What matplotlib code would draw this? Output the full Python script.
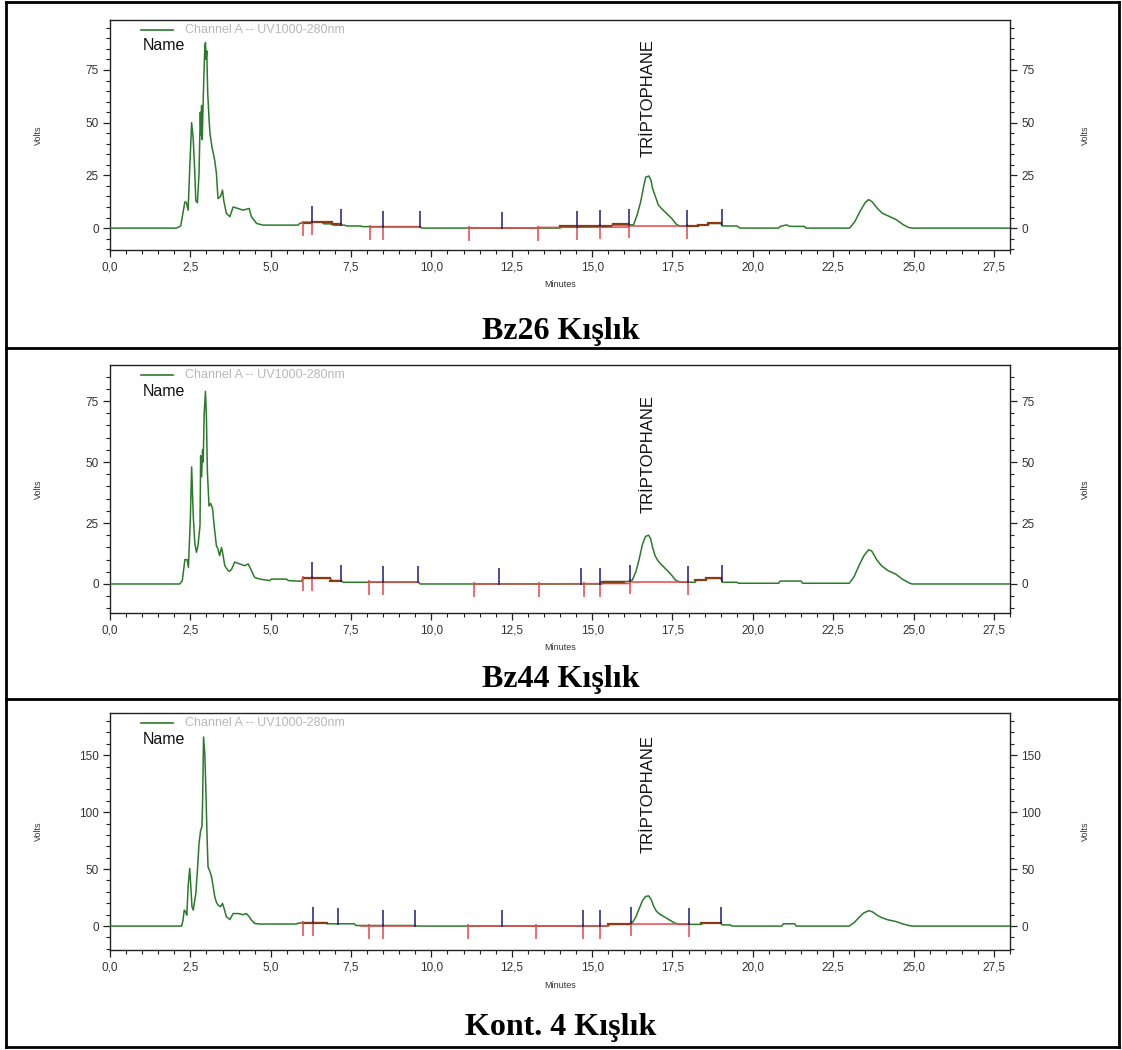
import numpy as np
import matplotlib
matplotlib.use("Agg")
import matplotlib.pyplot as plt
from matplotlib.lines import Line2D
from matplotlib.ticker import MultipleLocator, FuncFormatter

plt.rcParams['font.family'] = ['Liberation Sans', 'DejaVu Sans']

# ---------------- data ----------------
CAPTIONS = ["Bz26 Kışlık", "Bz44 Kışlık", "Kont. 4 Kışlık"]
PEAK_NAME = "TRİPTOPHANE"
LEGEND_TEXT = "Channel A -- UV1000-280nm"

BZ26_T = [0.0, 2.07, 2.20, 2.33, 2.38, 2.43, 2.48, 2.54, 2.59, 2.63, 2.67, 2.72, 2.77,
          2.81, 2.83, 2.85, 2.87, 2.89, 2.92, 2.95, 2.97, 2.99, 3.01, 3.04, 3.08, 3.11,
          3.17, 3.26, 3.31, 3.36, 3.44, 3.50, 3.54, 3.62, 3.73, 3.83, 3.98, 4.14, 4.33,
          4.40, 4.56, 4.76, 5.85, 5.90, 6.05, 6.60, 6.65, 6.90, 6.95, 7.30, 7.35, 7.80,
          7.85, 9.65, 9.70, 14.00, 14.05, 14.55, 14.60, 15.60, 15.65, 16.13, 16.29,
          16.40, 16.51, 16.61, 16.67, 16.77, 16.83, 16.88, 16.99, 17.06, 17.15, 17.31,
          17.47, 17.63, 17.74, 18.30, 18.35, 18.60, 18.65, 19.00, 19.05, 19.50, 19.60,
          20.80, 20.85, 21.05, 21.15, 21.60, 21.65, 23.01, 23.17, 23.33, 23.49, 23.60,
          23.71, 23.87, 24.03, 24.25, 24.46, 24.68, 24.84, 24.95, 28.0]
BZ26_V = [0.0, 0.0, 1.0, 12.5, 12.0, 8.5, 28.0, 50.0, 42.0, 29.0, 13.0, 12.0, 26.0,
          55.0, 44.0, 58.0, 42.0, 55.0, 72.0, 86.0, 88.0, 80.0, 84.0, 64.0, 52.0, 45.0,
          38.6, 32.0, 26.0, 14.0, 15.0, 18.0, 13.0, 7.0, 5.4, 10.0, 9.3, 8.5, 9.3,
          5.4, 2.2, 1.4, 1.4, 2.2, 2.8, 2.8, 2.0, 2.0, 1.4, 1.4, 1.0, 1.0,
          0.7, 0.7, 0.0, 0.0, 0.5, 0.5, 1.0, 1.0, 1.5, 1.5, 1.6,
          6.3, 12.5, 20.3, 24.2, 24.7, 22.7, 18.8, 14.0, 10.9, 9.4, 7.0,
          4.7, 1.6, 1.0, 1.0, 1.5, 1.5, 2.2, 2.2, 1.0, 1.0, 0.0,
          0.0, 0.8, 1.5, 0.8, 0.8, 0.0, 0.0, 3.0, 7.8, 12.0, 13.5,
          12.5, 9.4, 7.0, 5.5, 4.0, 1.6, 0.3, 0.0, 0.0]

BZ44_T = [0.0, 2.17, 2.25, 2.33, 2.40, 2.44, 2.50, 2.54, 2.57, 2.59, 2.64, 2.69, 2.74,
          2.80, 2.82, 2.85, 2.88, 2.90, 2.93, 2.97, 3.00, 3.03, 3.08, 3.13, 3.19, 3.24,
          3.31, 3.36, 3.41, 3.47, 3.52, 3.57, 3.67, 3.72, 3.78, 3.88, 4.04, 4.19, 4.30,
          4.40, 4.50, 4.66, 4.97, 5.02, 5.49, 5.55, 5.95, 6.00, 6.85, 6.90, 7.20, 7.25,
          9.60, 9.65, 15.30, 15.35, 16.10, 16.25, 16.36, 16.46, 16.56, 16.66, 16.76,
          16.82, 16.88, 16.96, 17.05, 17.15, 17.30, 17.45, 17.60, 17.75, 18.20, 18.25,
          18.50, 18.55, 19.00, 19.05, 19.50, 19.55, 20.80, 20.85, 21.50, 21.55, 23.00,
          23.15, 23.30, 23.45, 23.60, 23.70, 23.85, 24.00, 24.20, 24.45, 24.65, 24.85,
          24.95, 28.0]
BZ44_V = [0.0, 0.0, 1.4, 10.0, 10.0, 6.8, 27.0, 48.0, 36.0, 28.0, 16.4, 13.0, 16.0,
          24.0, 52.6, 44.0, 55.0, 50.0, 70.0, 79.0, 68.0, 46.0, 32.0, 33.0, 31.0, 24.0,
          15.7, 14.3, 11.6, 15.0, 11.6, 7.5, 5.5, 5.2, 6.0, 9.0, 8.2, 7.5, 8.2,
          5.5, 2.7, 2.0, 1.4, 2.0, 2.0, 1.4, 1.1, 2.3, 2.3, 1.4, 1.4, 0.7,
          0.7, 0.0, 0.0, 1.0, 1.0, 1.6, 5.0, 10.0, 16.0, 19.5, 20.0,
          18.5, 15.0, 11.5, 9.5, 8.0, 6.0, 4.0, 1.5, 0.7, 0.7, 1.6,
          1.6, 2.3, 2.3, 0.7, 0.7, 0.3, 0.3, 1.2, 1.2, 0.3, 0.3,
          3.0, 7.5, 11.5, 14.0, 13.5, 10.0, 7.5, 5.5, 4.0, 2.0, 0.5,
          0.0, 0.0]

KONT4_T = [0.0, 2.23, 2.27, 2.31, 2.35, 2.39, 2.43, 2.48, 2.51, 2.55, 2.59, 2.67, 2.72,
           2.77, 2.82, 2.86, 2.88, 2.91, 2.95, 2.98, 3.02, 3.05, 3.11, 3.16, 3.21, 3.26,
           3.31, 3.36, 3.44, 3.50, 3.55, 3.62, 3.73, 3.83, 3.99, 4.14, 4.24, 4.33, 4.40,
           4.50, 4.66, 5.80, 5.85, 6.00, 6.70, 6.75, 7.60, 7.65, 9.50, 9.55, 15.50,
           15.55, 16.10, 16.25, 16.36, 16.46, 16.56, 16.66, 16.76, 16.84, 16.92, 17.00,
           17.10, 17.25, 17.40, 17.55, 17.70, 18.40, 18.45, 19.00, 19.05, 19.30, 19.35,
           20.90, 20.95, 21.30, 21.35, 23.00, 23.15, 23.30, 23.45, 23.60, 23.72, 23.87,
           24.00, 24.20, 24.45, 24.65, 24.85, 24.95, 28.0]
KONT4_V = [0.0, 0.0, 5.0, 14.0, 12.6, 9.6, 34.5, 50.6, 37.0, 17.0, 14.0, 28.7, 49.0,
           72.5, 84.0, 87.0, 107.6, 166.0, 151.0, 122.0, 78.0, 52.0, 47.7, 43.0, 34.5, 25.7,
           21.0, 18.4, 17.0, 19.9, 15.5, 8.2, 5.8, 11.0, 11.0, 10.0, 11.0, 8.2, 5.3,
           2.3, 1.8, 1.8, 2.5, 3.0, 3.0, 2.0, 2.0, 0.5, 0.5, 0.0, 0.0,
           1.5, 1.5, 3.0, 8.0, 15.0, 22.0, 26.0, 26.5, 23.0, 17.0, 13.0,
           10.5, 8.0, 5.5, 3.0, 1.5, 1.5, 2.5, 2.5, 1.0, 1.0, 0.0,
           0.0, 2.0, 2.0, 0.0, 0.0, 3.0, 7.5, 11.5, 13.5, 12.5, 9.5,
           7.5, 5.5, 4.0, 2.0, 0.5, 0.0, 0.0]

# integration events (minutes)
BZ26_STARTS = [6.00, 6.29, 8.10, 8.49, 11.18, 13.30, 14.54, 15.24, 16.15, 17.96]
BZ26_ENDS = [6.29, 7.19, 8.49, 9.63, 12.21, 14.54, 15.24, 16.15, 17.96, 19.03]
BZ44_STARTS = [6.00, 6.29, 8.05, 8.49, 11.34, 13.35, 14.75, 15.24, 16.17, 17.99]
BZ44_ENDS = [6.29, 7.19, 8.49, 9.58, 12.11, 14.65, 15.24, 16.17, 17.99, 19.03]
KONT4_STARTS = [6.00, 6.30, 8.05, 8.50, 11.15, 13.25, 14.70, 15.25, 16.20, 18.00]
KONT4_ENDS = [6.30, 7.10, 8.50, 9.50, 12.20, 14.70, 15.25, 16.20, 18.00, 19.00]

# baselines: (t0, t1, level0, level1)
BZ26_RED = [(8.10, 9.63, 0.7, 0.7), (11.18, 13.30, 0.0, 0.0), (13.30, 16.15, 0.3, 0.5),
            (16.15, 17.96, 1.0, 1.0)]
BZ26_BROWN = [(6.00, 6.29, 2.6, 2.6), (6.29, 6.90, 2.8, 2.8), (6.90, 7.19, 1.8, 1.8),
              (14.00, 14.54, 0.8, 0.8), (14.60, 15.60, 1.2, 1.2), (15.65, 16.10, 1.7, 1.7),
              (17.96, 18.30, 1.2, 1.2), (18.30, 18.60, 1.6, 1.6), (18.60, 19.00, 2.3, 2.3)]
BZ44_RED = [(8.05, 9.58, 0.7, 0.7), (11.34, 16.17, 0.0, 0.2), (16.17, 17.99, 0.8, 0.8)]
BZ44_BROWN = [(6.00, 6.85, 2.3, 2.3), (6.85, 7.19, 1.4, 1.4), (15.30, 16.00, 1.0, 1.0),
              (18.20, 18.55, 1.6, 1.6), (18.55, 19.00, 2.3, 2.3)]
KONT4_RED = [(7.80, 9.50, 0.5, 0.5), (11.15, 15.50, 0.0, 0.0), (16.20, 18.00, 1.5, 1.5)]
KONT4_BROWN = [(6.00, 6.75, 3.0, 3.0), (15.50, 16.20, 1.5, 1.5), (18.40, 19.00, 2.5, 2.5)]

Y_TICKS = [[0, 25, 50, 75], [0, 25, 50, 75], [0, 50, 100, 150]]
X_TICKS = [0.0, 2.5, 5.0, 7.5, 10.0, 12.5, 15.0, 17.5, 20.0, 22.5, 25.0, 27.5]

# ---------------- layout (pixels) ----------------
W, H = 1122, 1050
fig = plt.figure(figsize=(W / 100, H / 100), dpi=100)

def fx(px):
    return px / W

def fy(py):
    return 1 - py / H

panels = [
    dict(t=BZ26_T, v=BZ26_V, st=BZ26_STARTS, en=BZ26_ENDS, red=BZ26_RED, brown=BZ26_BROWN,
         top=20, bot=250, ylim=(-10.4, 98.7), minor=5, label_y=33.7, cap_y=331),
    dict(t=BZ44_T, v=BZ44_V, st=BZ44_STARTS, en=BZ44_ENDS, red=BZ44_RED, brown=BZ44_BROWN,
         top=365, bot=613, ylim=(-11.9, 89.8), minor=5, label_y=29.0, cap_y=680),
    dict(t=KONT4_T, v=KONT4_V, st=KONT4_STARTS, en=KONT4_ENDS, red=KONT4_RED, brown=KONT4_BROWN,
         top=713, bot=950, ylim=(-21.0, 187.0), minor=10, label_y=64.0, cap_y=1028),
]

AX_L, AX_R = 110, 1010
GREEN = '#2b7a2b'
RED = '#e8474a'
BLUE = '#1c1c78'
BROWN = '#8a3b12'
TICKCOL = '#333333'

comma = FuncFormatter(lambda x, p: f"{x:.1f}".replace('.', ','))

for i, p in enumerate(panels):
    ax = fig.add_axes([fx(AX_L), fy(p['bot']), fx(AX_R - AX_L), (p['bot'] - p['top']) / H])
    t = np.array(p['t'])
    v = np.array(p['v'])
    ax.plot(t, v, color=GREEN, lw=1.1, zorder=3)
    ax.set_xlim(0, 28.0)
    ax.set_ylim(*p['ylim'])
    hpx = p['bot'] - p['top']
    dpp = (p['ylim'][1] - p['ylim'][0]) / hpx   # data units per pixel

    for (a, b, l0, l1) in p['red']:
        ax.plot([a, b], [l0, l1], color=RED, lw=1.1, zorder=4)
    for (a, b, l0, l1) in p['brown']:
        ax.plot([a, b], [l0, l1], color=BROWN, lw=1.6, zorder=4)
    base_st = np.interp(p['st'], t, v)
    base_en = np.interp(p['en'], t, v)
    ax.vlines(p['st'], base_st + 2 * dpp, base_st - 13 * dpp, color=RED, lw=1.1, zorder=5)
    ax.vlines(p['en'], base_en - 1 * dpp, base_en + 16 * dpp, color=BLUE, lw=1.1, zorder=5)

    ax.text(16.75, p['label_y'], PEAK_NAME, rotation=90, ha='center', va='bottom',
            fontsize=12, color='#111111')

    ax.set_xticks(X_TICKS)
    ax.xaxis.set_major_formatter(comma)
    ax.xaxis.set_minor_locator(MultipleLocator(0.5))
    ax.set_yticks(Y_TICKS[i])
    ax.yaxis.set_minor_locator(MultipleLocator(p['minor']))
    ax.tick_params(axis='both', which='major', direction='out', length=5, width=0.9,
                   labelsize=8.5, labelcolor=TICKCOL, color='#222222', pad=3)
    ax.tick_params(axis='both', which='minor', direction='out', length=3, width=0.8,
                   color='#222222')
    ax.tick_params(axis='y', which='both', left=True, right=True, labelleft=True,
                   labelright=True)
    ax.tick_params(axis='x', which='both', top=False, bottom=True)
    for s in ax.spines.values():
        s.set_color('#222222')
        s.set_linewidth(1.0)

    # axis titles
    ymid = (p['top'] + p['bot']) / 2
    fig.text(fx(38), fy(ymid), 'Volts', rotation=90, ha='center', va='center',
             fontsize=6.5, color=TICKCOL)
    fig.text(fx(1085), fy(ymid), 'Volts', rotation=90, ha='center', va='center',
             fontsize=6.5, color=TICKCOL)
    fig.text(fx((AX_L + AX_R) / 2), fy(p['bot'] + 35), 'Minutes', ha='center', va='center',
             fontsize=6.5, color=TICKCOL)

    # legend
    fig.add_artist(Line2D([fx(141), fx(173)], [fy(p['top'] + 10)] * 2, color=GREEN,
                          lw=1.2, transform=fig.transFigure))
    fig.text(fx(185), fy(p['top'] + 10), LEGEND_TEXT, ha='left', va='center',
             fontsize=9, color='#b8b8b8')
    fig.text(fx(143), fy(p['top'] + 26), 'Name', ha='left', va='center',
             fontsize=11.5, color='#111111')

    # caption
    fig.text(0.5, fy(p['cap_y']), CAPTIONS[i], ha='center', va='center',
             family='Liberation Serif', weight='bold', fontsize=23, color='black')

# table borders
def hline(y, x0=6, x1=1119):
    fig.add_artist(Line2D([fx(x0), fx(x1)], [fy(y), fy(y)], color='black', lw=2.0,
                          transform=fig.transFigure, solid_capstyle='projecting'))

def vline(x, y0=2, y1=1047):
    fig.add_artist(Line2D([fx(x), fx(x)], [fy(y0), fy(y1)], color='black', lw=2.0,
                          transform=fig.transFigure, solid_capstyle='projecting'))

for y in [2, 348, 699, 1047]:
    hline(y)
vline(6)
vline(1119)

fig.savefig('out.png', dpi=100, facecolor='white')
